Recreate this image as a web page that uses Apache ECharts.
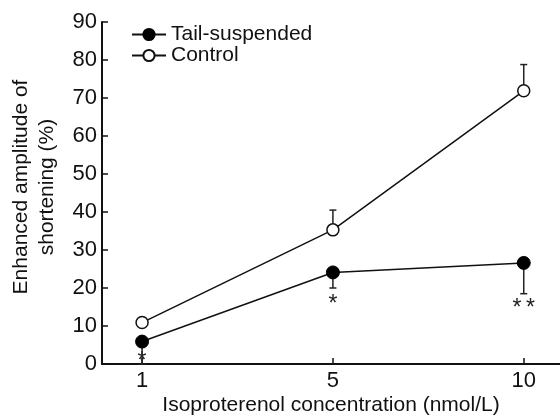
<!DOCTYPE html>
<html>
<head>
<meta charset="utf-8">
<script src="https://cdn.jsdelivr.net/npm/echarts@6/dist/echarts.min.js"></script>
<style>html,body{margin:0;padding:0;background:#fff}#c{width:560px;height:416px}</style>
</head>
<body>
<div id="c"></div>
<script>
const categories = ['1', '5', '10'];
const tailMean = [5.9, 24.1, 26.6];
const tailErrLow = [0, 20.0, 18.5];
const controlMean = [10.9, 35.3, 71.9];
const controlErrHigh = [10.9, 40.5, 78.8];
const sigLabels = ['*', '*', '*\u2009*'];
const sigY = [2.4, 17.4, 16.5];
const yTicks = [0, 10, 20, 30, 40, 50, 60, 70, 80, 90];

const FONT = '"Liberation Sans", Arial, sans-serif';
const chart = echarts.init(document.getElementById('c'), null, {renderer: 'canvas'});

function errRender(params, api) {
  const x = api.value(0);
  const p0 = api.coord([x, api.value(1)]);
  const p1 = api.coord([x, api.value(2)]);
  const cap = 3.5;
  return {
    type: 'group',
    children: [
      {type: 'line', shape: {x1: p0[0], y1: p0[1], x2: p1[0], y2: p1[1]}, style: {stroke: '#222', lineWidth: 1.5}},
      {type: 'line', shape: {x1: p1[0] - cap, y1: p1[1], x2: p1[0] + cap, y2: p1[1]}, style: {stroke: '#222', lineWidth: 1.5}}
    ]
  };
}

function sigRender(params, api) {
  const p = api.coord([api.value(0), api.value(1)]);
  return {
    type: 'text',
    style: {text: sigLabels[params.dataIndex], x: p[0], y: p[1] + 7, align: 'center', verticalAlign: 'middle', font: '23px ' + FONT, fill: '#222'}
  };
}

chart.setOption({
  animation: false,
  backgroundColor: '#fff',
  grid: {left: 102, right: 0, top: 22, bottom: 52, containLabel: false, outerBoundsMode: 'none'},
  legend: {
    orient: 'vertical', left: 131, top: 24, padding: 0, itemGap: 0, itemWidth: 34, itemHeight: 14,
    textStyle: {fontFamily: FONT, fontSize: 21, lineHeight: 19.5, color: '#111'},
    data: ['Tail-suspended', 'Control']
  },
  xAxis: {
    type: 'value', min: -0.21, max: 2.19,
    name: 'Isoproterenol concentration (nmol/L)', nameLocation: 'middle', nameGap: 31, nameMoveOverlap: false,
    nameTextStyle: {fontFamily: FONT, fontSize: 21, color: '#111', verticalAlign: 'top'},
    axisLine: {onZero: false, lineStyle: {color: '#111', width: 2}},
    axisTick: {inside: true, length: 6, customValues: [0, 1, 2], lineStyle: {color: '#111', width: 1.5}},
    axisLabel: {customValues: [0, 1, 2], formatter: v => categories[Math.round(v)], fontFamily: FONT, fontSize: 22, color: '#111', margin: 6},
    splitLine: {show: false}
  },
  yAxis: {
    type: 'value', min: 0, max: 90, interval: 10,
    name: 'Enhanced amplitude of\nshortening (%)', nameLocation: 'middle', nameGap: 42, nameRotate: 90, nameMoveOverlap: false,
    nameTextStyle: {fontFamily: FONT, fontSize: 21, color: '#111', lineHeight: 26, align: 'center', padding: [0, 0, 0, 12]},
    axisLine: {show: true, onZero: false, lineStyle: {color: '#111', width: 2}},
    axisTick: {show: true, inside: true, length: 6, lineStyle: {color: '#111', width: 1.5}},
    axisLabel: {fontFamily: FONT, fontSize: 22, color: '#111', margin: 5},
    splitLine: {show: false}
  },
  series: [
    {
      name: 'Tail-suspended-err', type: 'custom', renderItem: errRender, z: 1,
      data: tailMean.map((m, i) => [i, m, tailErrLow[i]])
    },
    {
      name: 'Control-err', type: 'custom', renderItem: errRender, z: 1,
      data: controlMean.map((m, i) => [i, m, controlErrHigh[i]])
    },
    {
      name: 'Tail-suspended', type: 'line', z: 3,
      data: tailMean.map((m, i) => [i, m]),
      symbol: 'circle', symbolSize: 13,
      lineStyle: {color: '#111', width: 1.5},
      itemStyle: {color: '#000', borderColor: '#000', borderWidth: 1}
    },
    {
      name: 'Control', type: 'line', z: 3,
      data: controlMean.map((m, i) => [i, m]),
      symbol: 'circle', symbolSize: 12,
      lineStyle: {color: '#111', width: 1.5},
      itemStyle: {color: '#fff', borderColor: '#111', borderWidth: 1.5}
    },
    {
      name: 'sig', type: 'custom', renderItem: sigRender, z: 4,
      data: sigY.map((y, i) => [i, y])
    }
  ]
});
</script>
</body>
</html>
